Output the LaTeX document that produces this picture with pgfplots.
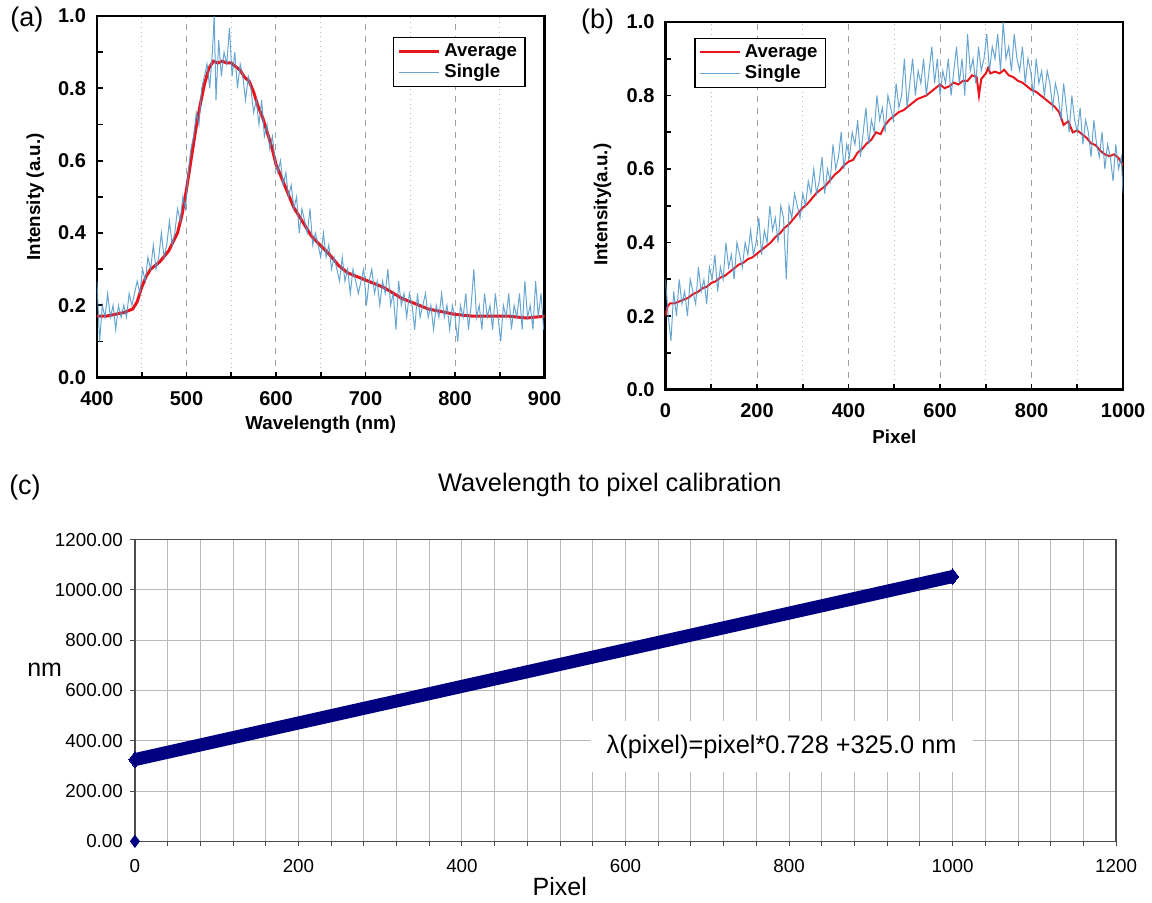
\documentclass[border=0pt]{standalone}
\usepackage{pgfplots}
\pgfplotsset{compat=1.18}
\usepackage{fontspec}
\setmainfont{Liberation Sans}

\definecolor{avgred}{RGB}{232,22,28}
\definecolor{singleblue}{RGB}{78,150,202}
\definecolor{navyline}{RGB}{0,0,128}

\pgfplotsset{
  spec/.style={
    scale only axis,
    anchor=south west,
    /pgf/number format/assume math mode=true,
    tick align=inside,
    xtick pos=bottom, ytick pos=left,
    axis line style={line width=1.2pt},
    every tick/.style={black, line width=0.9pt},
    major tick length=3pt, minor tick length=3pt,
    minor x tick num=1, minor y tick num=1,
    xmajorgrids, xminorgrids,
    major grid style={dashed, gray!75, line width=0.5pt},
    minor grid style={dotted, gray!55, line width=0.6pt},
    ymin=0, ymax=1,
    ytick={0,0.2,0.4,0.6,0.8,1},
    yticklabel style={xshift=-2pt, /pgf/number format/fixed, /pgf/number format/fixed zerofill, /pgf/number format/precision=1},
    xticklabel style={yshift=-3.5pt},
    ticklabel style={font=\bfseries\fontsize{10}{12}\selectfont},
    label style={font=\bfseries\fontsize{9.4}{11}\selectfont},
    legend style={draw=black, line width=0.6pt, font=\bfseries\fontsize{9.3}{11}\selectfont,
      inner xsep=2pt, inner ysep=1pt, row sep=-1.5pt},
    legend cell align=left,
    legend image code/.code={\draw[##1] (0pt,0pt) -- (20pt,0pt);},
  }
}

\begin{document}
\begin{tikzpicture}
\path (0,0) rectangle (576pt,451.5pt);

% (a) spectrum vs wavelength
\begin{axis}[spec, at={(48.5pt,262.5pt)}, width=224pt, height=181pt,
  xmin=400, xmax=900, xtick={400,500,600,700,800,900},
  xlabel={Wavelength (nm)}, ylabel={Intensity (a.u.)},
  xlabel style={at={(axis description cs:0.5,-0.13)}, anchor=center},
  ylabel style={at={(axis description cs:-0.138,0.5)}, anchor=center},
  legend style={at={(0.661,0.942)}, anchor=north west}]
\addplot[avgred, line width=1.5pt] coordinates {
(400,0.17) (410,0.17) (420,0.175) (430,0.18) (440,0.19) (445,0.21) (450,0.25)
(455,0.28) (460,0.30) (470,0.32) (480,0.35) (490,0.40) (495,0.45) (500,0.52)
(505,0.60) (510,0.68) (515,0.75) (520,0.81) (525,0.855) (530,0.875) (535,0.87)
(540,0.875) (545,0.87) (550,0.87) (555,0.86) (560,0.85) (565,0.83) (570,0.82)
(575,0.79) (580,0.75) (585,0.72) (590,0.68) (595,0.64) (600,0.59) (605,0.56)
(610,0.53) (615,0.50) (620,0.47) (630,0.43) (640,0.39) (650,0.365) (660,0.34)
(670,0.31) (680,0.29) (690,0.28) (700,0.27) (710,0.26) (720,0.25) (730,0.235)
(740,0.22) (750,0.21) (760,0.20) (770,0.19) (780,0.185) (790,0.18) (800,0.175)
(820,0.17) (840,0.17) (860,0.17) (880,0.165) (900,0.17)};
\addlegendentry{Average}
\addplot[singleblue, line width=0.5pt, opacity=0.85] coordinates {
(400,0.267) (403,0.1) (406,0.2) (409,0.167) (412,0.233) (415,0.167) (418,0.2)
(421,0.133) (424,0.2) (427,0.167) (430,0.2) (433,0.167) (436,0.233) (439,0.2)
(442,0.233) (445,0.267) (448,0.233) (451,0.3) (454,0.267) (457,0.333) (460,0.3)
(463,0.367) (466,0.3) (469,0.333) (472,0.4) (475,0.333) (478,0.367) (481,0.433)
(484,0.367) (487,0.4) (490,0.467) (493,0.433) (496,0.5) (499,0.467) (502,0.567)
(505,0.633) (508,0.667) (511,0.733) (514,0.7) (517,0.8) (520,0.833) (523,0.867)
(526,0.8) (529,0.9) (531,1.0) (533,0.767) (536,0.933) (539,0.833) (542,0.9)
(545,0.867) (548,0.967) (551,0.833) (554,0.9) (557,0.8) (560,0.867) (563,0.833)
(566,0.767) (569,0.833) (572,0.8) (575,0.733) (578,0.767) (581,0.7) (584,0.767)
(587,0.667) (590,0.7) (593,0.633) (596,0.667) (599,0.6) (602,0.567) (605,0.6)
(608,0.533) (611,0.567) (614,0.5) (617,0.533) (620,0.467) (623,0.5) (626,0.4)
(629,0.467) (632,0.433) (635,0.4) (638,0.467) (641,0.367) (644,0.4) (647,0.367)
(650,0.333) (653,0.4) (656,0.333) (659,0.367) (662,0.3) (665,0.333) (668,0.3)
(671,0.267) (674,0.333) (677,0.267) (680,0.3) (683,0.233) (686,0.3) (689,0.267)
(692,0.233) (695,0.267) (698,0.3) (701,0.2) (704,0.267) (707,0.3) (710,0.233)
(713,0.267) (716,0.2) (719,0.267) (722,0.233) (725,0.3) (728,0.2) (731,0.233)
(734,0.133) (737,0.267) (740,0.2) (743,0.233) (746,0.167) (749,0.233) (752,0.2)
(755,0.133) (758,0.233) (761,0.167) (764,0.2) (767,0.233) (770,0.167) (773,0.2)
(776,0.133) (779,0.2) (782,0.167) (785,0.233) (788,0.167) (791,0.2) (794,0.133)
(797,0.2) (800,0.167) (803,0.1) (806,0.2) (809,0.167) (812,0.233) (815,0.133)
(818,0.2) (821,0.3) (824,0.167) (827,0.2) (830,0.133) (833,0.233) (836,0.167)
(839,0.2) (842,0.133) (845,0.233) (848,0.167) (851,0.1) (854,0.2) (857,0.167)
(860,0.233) (863,0.133) (866,0.2) (869,0.167) (872,0.233) (875,0.133) (878,0.267)
(881,0.167) (884,0.2) (887,0.133) (890,0.267) (893,0.167) (896,0.233) (899,0.133)};
\addlegendentry{Single}
\end{axis}

% (b) spectrum vs pixel
\begin{axis}[spec, at={(333pt,256.5pt)}, width=229pt, height=184pt,
  xmin=0, xmax=1000, xtick={0,200,400,600,800,1000},
  /pgf/number format/1000 sep={},
  xlabel={Pixel}, ylabel={Intensity(a.u.)},
  xlabel style={at={(axis description cs:0.5,-0.128)}, anchor=center},
  ylabel style={at={(axis description cs:-0.1376,0.503)}, anchor=center},
  legend style={at={(0.063,0.957)}, anchor=north west}]
\addplot[avgred, line width=1pt] coordinates {
(0,0.20) (4,0.225) (10,0.235) (20,0.235) (30,0.24) (40,0.245) (50,0.25) (60,0.26)
(70,0.265) (80,0.275) (90,0.28) (100,0.29) (110,0.295) (120,0.305) (130,0.31)
(140,0.32) (150,0.33) (160,0.34) (170,0.345) (180,0.355) (190,0.36) (200,0.37)
(210,0.38) (220,0.39) (230,0.40) (240,0.415) (250,0.425) (260,0.44) (270,0.45)
(280,0.465) (290,0.48) (300,0.495) (310,0.505) (320,0.52) (330,0.535) (340,0.545)
(350,0.555) (360,0.57) (370,0.585) (380,0.595) (390,0.61) (400,0.62) (410,0.625)
(420,0.645) (430,0.655) (440,0.67) (450,0.68) (460,0.70) (470,0.695) (480,0.72)
(490,0.735) (500,0.745) (510,0.755) (520,0.76) (530,0.77) (540,0.78) (550,0.79)
(560,0.795) (570,0.80) (580,0.81) (590,0.82) (600,0.83) (610,0.82) (620,0.825)
(630,0.835) (640,0.83) (650,0.84) (660,0.84) (670,0.855) (680,0.85) (685,0.80)
(690,0.845) (700,0.86) (705,0.875) (710,0.86) (720,0.865) (730,0.86) (740,0.87)
(750,0.855) (760,0.85) (770,0.84) (780,0.835) (790,0.825) (800,0.815) (810,0.81)
(820,0.80) (830,0.79) (840,0.78) (850,0.77) (860,0.755) (870,0.72) (880,0.73)
(890,0.70) (900,0.705) (910,0.695) (920,0.685) (930,0.67) (940,0.665) (950,0.65)
(960,0.64) (970,0.635) (980,0.64) (990,0.63) (1000,0.61)};
\addlegendentry{Average}
\addplot[singleblue, line width=0.5pt, opacity=0.85] coordinates {
(0,0.3) (6,0.2) (12,0.133) (18,0.267) (24,0.2) (30,0.3) (36,0.233) (42,0.267)
(48,0.2) (54,0.3) (60,0.267) (66,0.233) (72,0.333) (78,0.267) (84,0.3) (90,0.233)
(96,0.333) (102,0.3) (108,0.367) (114,0.267) (120,0.333) (126,0.3) (132,0.4)
(138,0.333) (144,0.367) (150,0.3) (156,0.4) (162,0.367) (168,0.333) (174,0.4)
(180,0.367) (186,0.433) (192,0.367) (198,0.4) (204,0.467) (210,0.367) (216,0.433)
(222,0.4) (228,0.5) (234,0.433) (240,0.467) (246,0.4) (252,0.5) (258,0.467)
(264,0.3) (270,0.5) (276,0.467) (282,0.533) (288,0.5) (294,0.467) (300,0.533)
(306,0.5) (312,0.567) (318,0.533) (324,0.6) (330,0.533) (336,0.567) (342,0.633)
(348,0.533) (354,0.6) (360,0.567) (366,0.667) (372,0.6) (378,0.633) (384,0.7)
(390,0.6) (396,0.667) (402,0.633) (408,0.7) (414,0.667) (420,0.733) (426,0.633)
(432,0.7) (438,0.767) (444,0.667) (450,0.733) (456,0.7) (462,0.8) (468,0.733)
(474,0.767) (480,0.7) (486,0.8) (492,0.767) (498,0.733) (504,0.833) (510,0.767)
(516,0.8) (522,0.9) (528,0.767) (534,0.833) (540,0.9) (546,0.8) (552,0.867)
(558,0.833) (564,0.9) (570,0.8) (576,0.867) (582,0.933) (588,0.833) (594,0.9)
(600,0.8) (606,0.867) (612,0.833) (618,0.9) (624,0.8) (630,0.867) (636,0.933)
(642,0.833) (648,0.9) (654,0.8) (660,0.967) (666,0.867) (672,0.9) (678,0.833)
(684,0.933) (690,0.867) (696,0.9) (702,0.967) (708,0.867) (714,0.933) (720,0.9)
(726,0.967) (732,0.867) (738,1.0) (744,0.9) (750,0.933) (756,0.867) (762,0.967)
(768,0.9) (774,0.867) (780,0.933) (786,0.833) (792,0.9) (798,0.867) (804,0.8)
(810,0.9) (816,0.833) (822,0.867) (828,0.8) (834,0.867) (840,0.833) (846,0.767)
(852,0.833) (858,0.8) (864,0.733) (870,0.833) (876,0.767) (882,0.7) (888,0.8)
(894,0.733) (900,0.7) (906,0.767) (912,0.667) (918,0.733) (924,0.7) (930,0.633)
(936,0.733) (942,0.667) (948,0.633) (954,0.7) (960,0.6) (966,0.667) (972,0.633)
(978,0.567) (984,0.667) (990,0.6) (996,0.633) (1000,0.533)};
\addlegendentry{Single}
\end{axis}

% (c) calibration
\begin{axis}[at={(67.5pt,30.5pt)}, anchor=south west, scale only axis,
  width=491pt, height=151pt,
  xmin=0, xmax=1200, ymin=0, ymax=1200,
  xtick={0,200,...,1200}, ytick={0,200,...,1200},
  minor x tick num=4,
  xmajorgrids, xminorgrids, ymajorgrids,
  grid style={gray!55, line width=0.5pt},
  axis line style={gray!60!black, line width=0.8pt},
  tick align=outside, xtick pos=bottom, ytick pos=left,
  major tick length=2.5pt, minor tick length=2.5pt,
  every tick/.style={gray!60!black, line width=0.5pt},
  /pgf/number format/assume math mode=true,
  /pgf/number format/1000 sep={},
  yticklabel style={/pgf/number format/fixed, /pgf/number format/fixed zerofill, /pgf/number format/precision=2},
  ticklabel style={font=\fontsize{9.4}{11}\selectfont},
  xticklabel style={yshift=-3pt},
  title={Wavelength to pixel calibration},
  title style={at={(axis description cs:0.484,1.142)}, anchor=center, font=\fontsize{12.7}{15}\selectfont},
  xlabel={Pixel}, ylabel={nm},
  label style={font=\fontsize{12.5}{15}\selectfont},
  xlabel style={at={(axis description cs:0.433,-0.149)}, anchor=center},
  ylabel style={at={(axis description cs:-0.092,0.57)}, anchor=center, rotate=-90},
  clip=false]
\addplot[navyline, line width=6.5pt, mark=diamond*, mark size=4pt,
  mark options={solid, line width=0pt}] coordinates {(0,325.0) (1000,1053.0)};
\addplot[navyline, only marks, mark=diamond*, mark size=3pt] coordinates {(0,0)};
\node[fill=white, inner xsep=8pt, inner ysep=7pt, font=\fontsize{12.7}{15}\selectfont]
  at (axis cs:791,377) {λ(pixel)=pixel*0.728 +325.0 nm};
\end{axis}

% panel letters
\node[font=\fontsize{13.5}{16}\selectfont] at (13.5pt,441.5pt) {(a)};
\node[font=\fontsize{13.5}{16}\selectfont] at (299pt,440.5pt) {(b)};
\node[font=\fontsize{13.5}{16}\selectfont] at (12.5pt,207.5pt) {(c)};
\end{tikzpicture}
\end{document}
